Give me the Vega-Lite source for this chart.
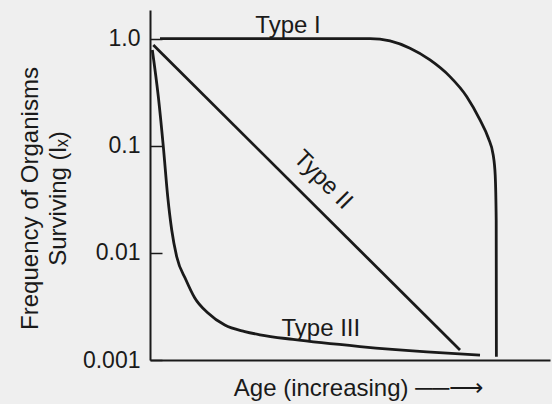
{
  "$schema": "https://vega.github.io/schema/vega-lite/v6.json",
  "width": 400,
  "height": 350,
  "autosize": {"type": "none"},
  "padding": {"left": 150, "top": 10, "right": 2, "bottom": 44},
  "background": "#efefef",
  "config": {
    "view": {"stroke": null},
    "font": "Liberation Sans"
  },
  "datasets": {
    "curves": [
      {"type": "Type I", "i": 1, "age": 2.5, "surv": 1.01},
      {"type": "Type I", "i": 2, "age": 55, "surv": 1.01},
      {"type": "Type I", "i": 3, "age": 60, "surv": 0.958},
      {"type": "Type I", "i": 4, "age": 65, "surv": 0.819},
      {"type": "Type I", "i": 5, "age": 70, "surv": 0.637},
      {"type": "Type I", "i": 6, "age": 75, "surv": 0.445},
      {"type": "Type I", "i": 7, "age": 79.2, "surv": 0.289},
      {"type": "Type I", "i": 8, "age": 82.5, "surv": 0.175},
      {"type": "Type I", "i": 9, "age": 84.6, "surv": 0.118},
      {"type": "Type I", "i": 10, "age": 85.8, "surv": 0.0824},
      {"type": "Type I", "i": 11, "age": 86.3, "surv": 0.0536},
      {"type": "Type I", "i": 12, "age": 86.55, "surv": 0.02},
      {"type": "Type I", "i": 13, "age": 86.6, "surv": 0.00107},
      {"type": "Type II", "i": 1, "age": 0.83, "surv": 0.879},
      {"type": "Type II", "i": 2, "age": 77.5, "surv": 0.00124},
      {"type": "Type III", "i": 1, "age": 0.58, "surv": 0.789},
      {"type": "Type III", "i": 2, "age": 2.08, "surv": 0.289},
      {"type": "Type III", "i": 3, "age": 3.33, "surv": 0.0985},
      {"type": "Type III", "i": 4, "age": 4.43, "surv": 0.0336},
      {"type": "Type III", "i": 5, "age": 5.43, "surv": 0.0164},
      {"type": "Type III", "i": 6, "age": 6.68, "surv": 0.00923},
      {"type": "Type III", "i": 7, "age": 9.0, "surv": 0.0056},
      {"type": "Type III", "i": 8, "age": 11.2, "surv": 0.0038},
      {"type": "Type III", "i": 9, "age": 14.5, "surv": 0.00275},
      {"type": "Type III", "i": 10, "age": 18.7, "surv": 0.00212},
      {"type": "Type III", "i": 11, "age": 23.7, "surv": 0.001845},
      {"type": "Type III", "i": 12, "age": 27.5, "surv": 0.00172},
      {"type": "Type III", "i": 13, "age": 35.75, "surv": 0.001556},
      {"type": "Type III", "i": 14, "age": 52.5, "surv": 0.001336},
      {"type": "Type III", "i": 15, "age": 69.2, "surv": 0.00119},
      {"type": "Type III", "i": 16, "age": 82.5, "surv": 0.00111}
    ],
    "labels": [
      {"label": "Type I", "age": 34.5, "surv": 1.32, "angle": 0},
      {"label": "Type II", "age": 43.25, "surv": 0.048, "angle": 45},
      {"label": "Type III", "age": 42.7, "surv": 0.00195, "angle": 0}
    ]
  },
  "encoding": {
    "x": {
      "field": "age",
      "type": "quantitative",
      "scale": {"domain": [0, 100], "nice": false, "zero": false},
      "axis": {
        "title": "Age (increasing) ──⟶",
        "titleFont": "Liberation Sans",
        "titleFontSize": 24,
        "titleFontWeight": "normal",
        "titleColor": "#1a1a1a",
        "titleX": 208,
        "titleY": 35,
        "titleBaseline": "alphabetic",
        "titleAlign": "center",
        "ticks": false,
        "labels": false,
        "grid": false,
        "domainColor": "#1a1a1a",
        "domainWidth": 2
      }
    },
    "y": {
      "field": "surv",
      "type": "quantitative",
      "scale": {"type": "log", "domain": [0.001, 1.866], "nice": false},
      "axis": {
        "values": [0.001, 0.01, 0.1, 1],
        "labelExpr": "datum.value >= 0.99 ? '1.0' : datum.value >= 0.099 ? '0.1' : datum.value >= 0.0099 ? '0.01' : '0.001'",
        "labelFont": "Liberation Sans",
        "labelFontSize": 23,
        "labelColor": "#1a1a1a",
        "labelPadding": 22,
        "tickSize": -12,
        "tickColor": "#1a1a1a",
        "tickWidth": 1.5,
        "grid": false,
        "domainColor": "#1a1a1a",
        "domainWidth": 2,
        "title": ["Frequency of Organisms", "Surviving (lₓ)"],
        "titleFont": "Liberation Sans",
        "titleFontSize": 24,
        "titleFontWeight": "normal",
        "titleColor": "#1a1a1a",
        "titleLineHeight": 28,
        "titleAlign": "center",
        "titleBaseline": "bottom",
        "titleAngle": -90,
        "titleX": -108,
        "titleY": 188
      }
    }
  },
  "layer": [
    {
      "data": {"name": "curves"},
      "mark": {"type": "line", "interpolate": "monotone", "strokeWidth": 2.8, "color": "#1a1a1a"},
      "encoding": {
        "detail": {"field": "type", "type": "nominal"},
        "order": {"field": "i", "type": "quantitative"}
      }
    },
    {
      "data": {"name": "labels"},
      "mark": {"type": "text", "font": "Liberation Sans", "fontSize": 24, "color": "#1a1a1a", "align": "center", "baseline": "middle"},
      "encoding": {
        "text": {"field": "label"},
        "angle": {"field": "angle", "type": "quantitative", "scale": null}
      }
    }
  ]
}
